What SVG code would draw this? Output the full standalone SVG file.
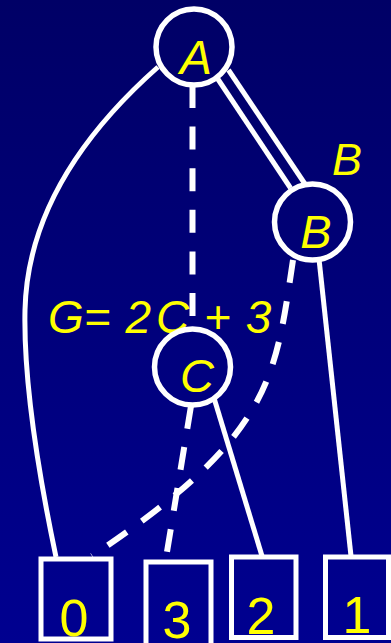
<svg xmlns="http://www.w3.org/2000/svg" width="391" height="643" viewBox="0 0 391 643">
<defs>
<linearGradient id="bg" x1="0" y1="0" x2="0" y2="1">
<stop offset="0" stop-color="#000066"/>
<stop offset="1" stop-color="#000090"/>
</linearGradient>
<style>
.ln{fill:none;stroke:#fff;stroke-width:5}
.ds{fill:none;stroke:#fff;stroke-width:6;stroke-dasharray:23 18.6}
.nd{fill:none;stroke:#fff;stroke-width:5.5}
.bx{fill:none;stroke:#fff;stroke-width:5}
.lt{font-family:"Liberation Sans",Arial,sans-serif;font-style:italic;fill:#ffff00}
.dg{font-family:"Liberation Sans",Arial,sans-serif;fill:#ffff00;font-size:52px;text-anchor:middle}
</style>
</defs>
<rect width="391" height="643" fill="url(#bg)"/>
<g id="labels">
<text class="lt" x="48" y="333" font-size="46">G= <tspan dx="2">2</tspan><tspan dx="5">C</tspan> <tspan dx="2">+</tspan> <tspan dx="2">3</tspan></text>
<text class="lt" x="347" y="175" font-size="45" text-anchor="middle">B</text>
</g>
<g id="connectors">
<path class="ln" d="M158,67 Q28,182 25,310 Q23,400 56,557"/>
<line class="ds" x1="192.5" y1="85" x2="192.5" y2="328"/>
<line class="ln" x1="216.5" y1="77" x2="290.5" y2="188"/>
<line class="ln" x1="228.5" y1="70" x2="305" y2="184"/>
<path class="ds" d="M293,260 C275,380 272,436 92,556"/>
<line class="ds" x1="191" y1="406" x2="166" y2="558"/>
<line class="ln" x1="214" y1="398" x2="262" y2="556"/>
<line class="ln" x1="319" y1="259" x2="351" y2="556"/>
</g>
<g id="nodeA">
<circle class="nd" cx="194" cy="47" r="38"/>
<text class="lt" x="196" y="74" font-size="48" text-anchor="middle">A</text>
</g>
<g id="nodeB">
<circle class="nd" cx="312.5" cy="222" r="38"/>
<text class="lt" x="316" y="248" font-size="47" text-anchor="middle">B</text>
</g>
<g id="nodeC">
<circle class="nd" cx="192.5" cy="367" r="38"/>
<text class="lt" x="197" y="392" font-size="47" text-anchor="middle">C</text>
</g>
<g id="leaf0">
<rect class="bx" x="41" y="559" width="70" height="80"/>
<text class="dg" x="74" y="636">0</text>
</g>
<g id="leaf3">
<rect class="bx" x="146" y="562" width="65" height="90"/>
<text class="dg" x="177" y="638">3</text>
</g>
<g id="leaf2">
<rect class="bx" x="231.5" y="557" width="64.5" height="80.5"/>
<text class="dg" x="261" y="634">2</text>
</g>
<g id="leaf1">
<rect class="bx" x="325.5" y="557" width="63" height="80.5"/>
<text class="dg" x="357" y="633">1</text>
</g>
</svg>
